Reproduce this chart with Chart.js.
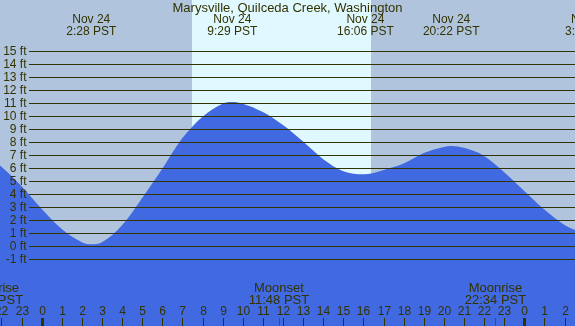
<!DOCTYPE html>
<html>
<head>
<meta charset="utf-8">
<script src="https://cdn.jsdelivr.net/npm/chart.js@4/dist/chart.umd.min.js"></script>
<style>
  body { margin: 0 ; background: #b0c4de ; }
  canvas { display: block ; }
</style>
</head>
<body>
<canvas id="tide" width="575" height="326"></canvas>
<script>
'use strict' ;

// tide height (ft), hours from midnight Nov 24
const tideHours = [-3, -2, -1, 0, 1, 2, 2.47, 3, 4, 5, 6, 7, 8, 9, 9.48, 10, 11, 12, 13, 14, 15, 16, 16.1, 17, 18, 19, 20, 20.37, 21, 22, 23, 24, 25, 26, 27] ;
const tideFeet  = [7.3, 6.1, 4.6, 2.86, 1.3, 0.3, 0.13, 0.3, 1.6, 3.7, 5.95, 8.3, 9.95, 10.95, 11.08, 10.95, 10.3, 9.3, 8.03, 6.68, 5.75, 5.52, 5.52, 5.85, 6.35, 7.15, 7.62, 7.7, 7.55, 6.93, 5.68, 4.24, 2.8, 1.62, 0.95] ;

// high / low labels along the top
const eventHours = [2.467, 9.483, 16.1, 20.367, 27.27] ;
const eventDays  = ['Nov 24', 'Nov 24', 'Nov 24', 'Nov 24', 'Nov 25'] ;
const eventTimes = ['2:28 PST', '9:29 PST', '16:06 PST', '20:22 PST', '3:16 PST'] ;

// moon labels along the bottom
const moonHours = [-2.45, 11.8, 22.567] ;
const moonNames = ['Moonrise', 'Moonset', 'Moonrise'] ;
const moonTimes = ['21:33 PST', '11:48 PST', '22:34 PST'] ;

// daylight
const sunrise = 7.47 ;
const sunset = 16.37 ;

const ftTicks = [15, 14, 13, 12, 11, 10, 9, 8, 7, 6, 5, 4, 3, 2, 1, 0, -1] ;
const hourTicks = [-2, -1, 0, 1, 2, 3, 4, 5, 6, 7, 8, 9, 10, 11, 12, 13, 14, 15, 16, 17, 18, 19, 20, 21, 22, 23, 24, 25, 26] ;

const ink = '#333300' ;
const font = '"Liberation Sans", Arial, sans-serif' ;

let points = [] ;
for (let i = 0 ; i < tideHours.length ; i++) {
  points.push({ x: tideHours[i], y: tideFeet[i] }) ;
}

const backdrop = {
  id: 'backdrop',
  beforeDraw (chart) {
    const ctx = chart.ctx ;
    const xs = chart.scales.x ;
    const a = chart.chartArea ;
    ctx.save() ;
    ctx.fillStyle = '#b0c4de' ;
    ctx.fillRect(0, 0, chart.width, chart.height) ;
    const x1 = Math.round(xs.getPixelForValue(sunrise)) ;
    const x2 = Math.round(xs.getPixelForValue(sunset)) ;
    ctx.fillStyle = '#e0f8ff' ;
    ctx.fillRect(x1, a.top, x2 - x1, a.bottom - a.top) ;
    ctx.restore() ;
  }
} ;

const overlay = {
  id: 'overlay',
  afterDatasetsDraw (chart) {
    const ctx = chart.ctx ;
    const xs = chart.scales.x ;
    const ys = chart.scales.y ;
    ctx.save() ;

    // horizontal lines + ft labels
    ctx.font = '12px ' + font ;
    ctx.textAlign = 'right' ;
    ctx.textBaseline = 'middle' ;
    for (let i = 0 ; i < ftTicks.length ; i++) {
      const y = Math.round(ys.getPixelForValue(ftTicks[i])) + 0.5 ;
      ctx.strokeStyle = ink ;
      ctx.lineWidth = 1 ;
      ctx.beginPath() ;
      ctx.moveTo(29, y) ;
      ctx.lineTo(chart.width, y) ;
      ctx.stroke() ;
      ctx.fillStyle = ink ;
      ctx.fillText(ftTicks[i] + ' ft', 26.5, y) ;
    }

    // title
    ctx.textAlign = 'center' ;
    ctx.font = '13px ' + font ;
    ctx.fillText('Marysville, Quilceda Creek, Washington', chart.width / 2, 8) ;

    // high / low times
    ctx.font = '12px ' + font ;
    for (let i = 0 ; i < eventHours.length ; i++) {
      const x = xs.getPixelForValue(eventHours[i]) ;
      ctx.fillText(eventDays[i], x, 20) ;
      ctx.fillText(eventTimes[i], x, 32) ;
    }

    // moon times
    ctx.font = '13px ' + font ;
    for (let i = 0 ; i < moonHours.length ; i++) {
      const x = xs.getPixelForValue(moonHours[i]) ;
      ctx.fillText(moonNames[i], x, 288) ;
      ctx.fillText(moonTimes[i], x, 300) ;
    }

    // hour labels and ticks
    ctx.font = '12px ' + font ;
    for (let i = 0 ; i < hourTicks.length ; i++) {
      const h = hourTicks[i] ;
      const x = Math.round(xs.getPixelForValue(h)) ;
      ctx.fillStyle = ink ;
      ctx.fillText(String((h + 24) % 24), x + 0.5, 312) ;
      if (h % 24 === 0) {
        ctx.fillRect(x - 1, 318, 3, 8) ;
      } else {
        ctx.fillRect(x, 318, 1, 8) ;
      }
    }
    ctx.fillStyle = '#ff0000' ;
    for (let i = 0 ; i < moonHours.length ; i++) {
      const x = Math.round(xs.getPixelForValue(moonHours[i])) ;
      ctx.fillRect(x, 318, 1, 8) ;
    }
    ctx.restore() ;
  }
} ;

new Chart(document.getElementById('tide'), {
  type: 'line',
  data: {
    datasets: [{
      data: points,
      fill: 'start',
      backgroundColor: '#4169e1',
      borderColor: '#4169e1',
      borderWidth: 0,
      pointRadius: 0,
      cubicInterpolationMode: 'monotone'
    }]
  },
  options: {
    responsive: false,
    animation: false,
    devicePixelRatio: 1,
    layout: { padding: 0 },
    plugins: { legend: { display: false }, tooltip: { enabled: false } },
    scales: {
      x: { type: 'linear', min: -2.07, max: 26.52, display: false },
      y: { min: -6.15, max: 18.92, display: false }
    }
  },
  plugins: [backdrop, overlay]
}) ;
</script>
</body>
</html>
